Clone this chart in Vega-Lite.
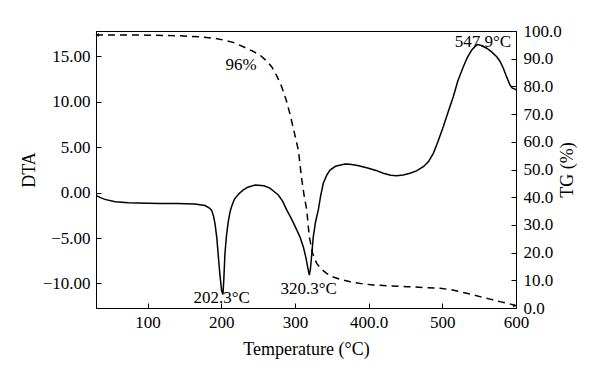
{
  "$schema": "https://vega.github.io/schema/vega-lite/v6.json",
  "width": 420,
  "height": 277,
  "autosize": {"type": "none"},
  "padding": {"left": 96, "top": 31, "right": 84, "bottom": 75},
  "background": "white",
  "config": {
    "view": {"stroke": "black", "strokeWidth": 1},
    "axis": {
      "grid": false,
      "labelFont": "Liberation Serif",
      "labelFontSize": 17,
      "labelColor": "black",
      "labelOverlap": false,
      "titleFont": "Liberation Serif",
      "titleFontSize": 18,
      "titleFontWeight": "normal",
      "titleColor": "black",
      "domainColor": "black",
      "tickColor": "black",
      "tickSize": -5,
      "labelPadding": 11
    },
    "text": {"font": "Liberation Serif", "fontSize": 17, "color": "black"}
  },
  "datasets": {
    "dta": [
      {"T":30,"v":-0.3},{"T":36,"v":-0.55},{"T":42,"v":-0.74},{"T":56,"v":-1.0},{"T":74,"v":-1.12},{"T":100,"v":-1.16},{"T":119,"v":-1.18},{"T":140,"v":-1.2},{"T":164,"v":-1.25},{"T":178,"v":-1.42},{"T":184,"v":-1.7},{"T":187,"v":-1.95},{"T":189.5,"v":-2.6},{"T":191.5,"v":-3.4},{"T":194,"v":-5.0},{"T":196,"v":-7.0},{"T":198.5,"v":-9.3},{"T":200.5,"v":-10.8},{"T":202.3,"v":-11.2},{"T":203.5,"v":-9.5},{"T":205,"v":-6.7},{"T":207,"v":-4.8},{"T":209.5,"v":-3.2},{"T":212,"v":-2.1},{"T":214.5,"v":-1.4},{"T":218,"v":-0.7},{"T":223,"v":-0.2},{"T":229,"v":0.25},{"T":236,"v":0.6},{"T":246,"v":0.84},{"T":258,"v":0.75},{"T":266,"v":0.5},{"T":272,"v":0.1},{"T":277.4,"v":-0.26},{"T":283,"v":-0.9},{"T":288.8,"v":-1.9},{"T":296,"v":-3.0},{"T":302.4,"v":-4.1},{"T":307,"v":-4.9},{"T":311.3,"v":-5.95},{"T":315,"v":-7.2},{"T":318,"v":-8.5},{"T":319.5,"v":-9.07},{"T":321,"v":-8.4},{"T":323,"v":-6.6},{"T":324.9,"v":-4.85},{"T":328,"v":-3.2},{"T":331.7,"v":-1.9},{"T":335,"v":-0.3},{"T":338.5,"v":1.03},{"T":343,"v":1.9},{"T":347.6,"v":2.49},{"T":355,"v":2.9},{"T":367.9,"v":3.15},{"T":374.7,"v":3.12},{"T":385,"v":3.0},{"T":397.4,"v":2.75},{"T":410,"v":2.45},{"T":419.9,"v":2.13},{"T":430,"v":1.92},{"T":438.1,"v":1.86},{"T":447,"v":1.95},{"T":456.1,"v":2.13},{"T":465,"v":2.4},{"T":474.2,"v":2.86},{"T":481,"v":3.4},{"T":487.8,"v":4.33},{"T":494,"v":5.6},{"T":501.3,"v":7.26},{"T":508,"v":8.9},{"T":514.9,"v":10.56},{"T":521,"v":12.3},{"T":528.5,"v":13.87},{"T":534,"v":14.9},{"T":539.9,"v":15.7},{"T":546.7,"v":16.26},{"T":547.9,"v":16.3},{"T":553,"v":16.2},{"T":560.2,"v":15.9},{"T":567,"v":15.5},{"T":573.8,"v":14.97},{"T":578,"v":14.5},{"T":582.8,"v":13.7},{"T":587,"v":12.8},{"T":591.9,"v":11.85},{"T":595,"v":11.5},{"T":598.7,"v":11.4},{"T":600,"v":11.3}
    ],
    "tg": [
      {"T":30,"tg":98.6},{"T":60,"tg":98.6},{"T":100,"tg":98.5},{"T":140,"tg":98.3},{"T":171,"tg":97.9},{"T":190,"tg":97.4},{"T":203,"tg":96.75},{"T":217,"tg":95.8},{"T":230,"tg":94.3},{"T":242,"tg":92.8},{"T":252.6,"tg":91.3},{"T":261,"tg":89.3},{"T":268.4,"tg":87.1},{"T":275,"tg":84.0},{"T":282,"tg":79.9},{"T":288,"tg":75.2},{"T":293.3,"tg":70},{"T":299,"tg":63.5},{"T":304.6,"tg":57},{"T":309.2,"tg":46.5},{"T":312.5,"tg":40.5},{"T":316,"tg":35.4},{"T":319.5,"tg":25.7},{"T":324,"tg":19.7},{"T":329.5,"tg":16.1},{"T":336,"tg":14.0},{"T":343,"tg":12.5},{"T":352,"tg":11.2},{"T":361,"tg":10.4},{"T":375,"tg":9.5},{"T":390,"tg":8.8},{"T":406,"tg":8.3},{"T":430,"tg":7.95},{"T":452,"tg":7.7},{"T":475,"tg":7.4},{"T":497,"tg":7.1},{"T":512,"tg":6.6},{"T":524,"tg":5.9},{"T":538,"tg":5.0},{"T":551,"tg":4.1},{"T":565,"tg":3.2},{"T":578,"tg":2.3},{"T":590,"tg":1.6},{"T":600,"tg":0.8}
    ],
    "dtaLabels": [
      {"T":200.6,"v":-11.64,"label":"202.3°C"},
      {"T":318.6,"v":-10.65,"label":"320.3°C"},
      {"T":555.2,"v":16.62,"label":"547.9°C"}
    ],
    "tgLabels": [
      {"T":226.8,"tg":87.7,"label":"96%"}
    ],
    "tgArrows": [
      {"T":31.5,"tg":98.6,"shape":"triangle-left"},
      {"T":598.5,"tg":0.9,"shape":"triangle-right"}
    ]
  },
  "layer": [
    {
      "layer": [
        {
          "data": {"name": "dta"},
          "mark": {"type": "line", "color": "black", "strokeWidth": 1.5, "clip": true},
          "encoding": {
            "x": {"field": "T", "type": "quantitative", "scale": {"domain": [30, 600], "nice": false, "zero": false},
                  "axis": {"title": "Temperature (°C)", "values": [100, 200, 300, 400, 500, 600], "labelExpr": "datum.value == 400 ? '400.0' : datum.label", "labelFlush": false, "titlePadding": 10}},
            "y": {"field": "v", "type": "quantitative", "scale": {"domain": [-12.7, 17.8], "nice": false, "zero": false},
                  "axis": {"title": "DTA", "orient": "left", "values": [-10, -5, 0, 5, 10, 15], "format": ".2f", "titlePadding": 4}}
          }
        },
        {
          "data": {"name": "dtaLabels"},
          "mark": {"type": "text", "baseline": "middle", "align": "center"},
          "encoding": {
            "x": {"field": "T", "type": "quantitative",
                  "axis": {"title": "Temperature (°C)", "values": [100, 200, 300, 400, 500, 600], "labelExpr": "datum.value == 400 ? '400.0' : datum.label", "labelFlush": false, "titlePadding": 10}},
            "y": {"field": "v", "type": "quantitative",
                  "axis": {"title": "DTA", "orient": "left", "values": [-10, -5, 0, 5, 10, 15], "format": ".2f", "titlePadding": 4}},
            "text": {"field": "label"}
          }
        }
      ]
    },
    {
      "layer": [
        {
          "data": {"name": "tg"},
          "mark": {"type": "line", "color": "black", "strokeWidth": 1.5, "strokeDash": [7, 5], "clip": true},
          "encoding": {
            "x": {"field": "T", "type": "quantitative",
                  "axis": {"title": "Temperature (°C)", "values": [100, 200, 300, 400, 500, 600], "labelExpr": "datum.value == 400 ? '400.0' : datum.label", "labelFlush": false, "titlePadding": 10}},
            "y": {"field": "tg", "type": "quantitative", "scale": {"domain": [0, 100], "nice": false},
                  "axis": {"title": "TG (%)", "orient": "right", "values": [0, 10, 20, 30, 40, 50, 60, 70, 80, 90, 100], "format": ".1f", "titleAngle": -90, "titlePadding": 15, "labelPadding": 12}}
          }
        },
        {
          "data": {"name": "tgLabels"},
          "mark": {"type": "text", "baseline": "middle", "align": "center"},
          "encoding": {
            "x": {"field": "T", "type": "quantitative",
                  "axis": {"title": "Temperature (°C)", "values": [100, 200, 300, 400, 500, 600], "labelExpr": "datum.value == 400 ? '400.0' : datum.label", "labelFlush": false, "titlePadding": 10}},
            "y": {"field": "tg", "type": "quantitative",
                  "axis": {"title": "TG (%)", "orient": "right", "values": [0, 10, 20, 30, 40, 50, 60, 70, 80, 90, 100], "format": ".1f", "titleAngle": -90, "titlePadding": 15, "labelPadding": 12}},
            "text": {"field": "label"}
          }
        },
        {
          "data": {"name": "tgArrows"},
          "mark": {"type": "point", "filled": true, "color": "black", "size": 18},
          "encoding": {
            "x": {"field": "T", "type": "quantitative",
                  "axis": {"title": "Temperature (°C)", "values": [100, 200, 300, 400, 500, 600], "labelExpr": "datum.value == 400 ? '400.0' : datum.label", "labelFlush": false, "titlePadding": 10}},
            "y": {"field": "tg", "type": "quantitative",
                  "axis": {"title": "TG (%)", "orient": "right", "values": [0, 10, 20, 30, 40, 50, 60, 70, 80, 90, 100], "format": ".1f", "titleAngle": -90, "titlePadding": 15, "labelPadding": 12}},
            "shape": {"field": "shape", "type": "nominal", "scale": null, "legend": null}
          }
        }
      ]
    }
  ],
  "resolve": {"scale": {"y": "independent"}, "axis": {"y": "independent"}}
}
